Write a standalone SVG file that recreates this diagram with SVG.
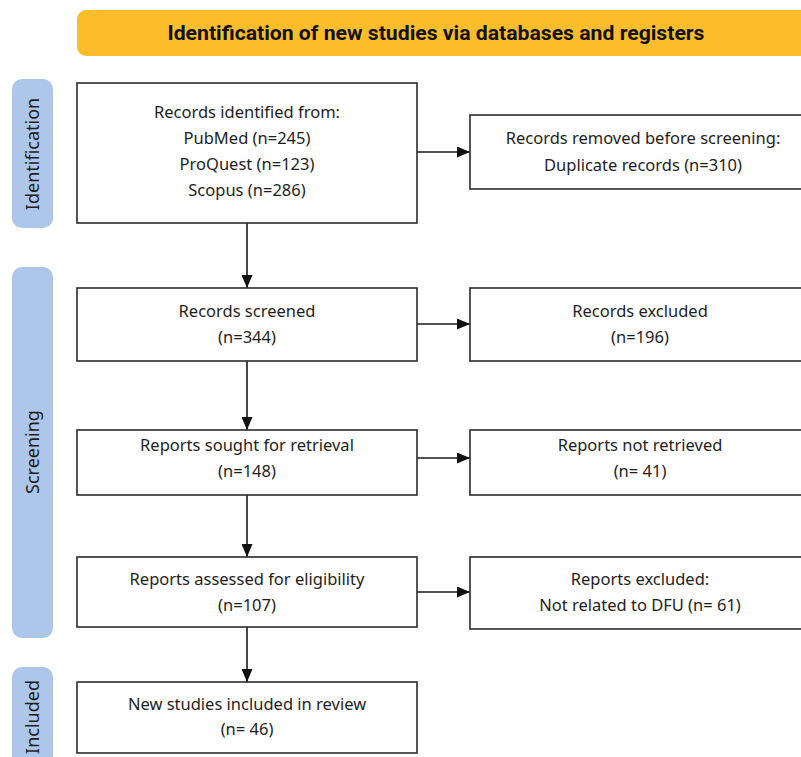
<svg xmlns="http://www.w3.org/2000/svg" width="801" height="757" viewBox="0 0 801 757">
<defs>
<style>
.box{fill:#fff;stroke:#2b2b2b;stroke-width:1.6}
.t{font-family:"Noto Sans","Liberation Sans",sans-serif;font-size:16.5px;fill:#1e1e1e;text-anchor:middle}
.side{fill:#adc6e9}
.st{font-family:"Noto Sans","Liberation Sans",sans-serif;font-size:18px;fill:#1e1e1e;text-anchor:middle}
.c{stroke:#1a1a1a;stroke-width:1.6;fill:none;marker-end:url(#ah)}
</style>
<marker id="ah" viewBox="0 0 13 11" refX="13" refY="5.5" markerWidth="13" markerHeight="11" markerUnits="userSpaceOnUse" orient="auto">
<path d="M0,0 L13,5.5 L0,11 Z" fill="#111"/>
</marker>
</defs>
<rect width="801" height="757" fill="#fff"/>
<g id="title">
<rect x="77" y="10" width="740" height="46" rx="9" fill="#fcbd2a"/>
<text x="436" y="40" font-family="Roboto,'Liberation Sans',sans-serif" font-weight="bold" font-size="20.5" fill="#111" text-anchor="middle" textLength="537" lengthAdjust="spacingAndGlyphs">Identification of new studies via databases and registers</text>
</g>
<g id="side-identification">
<rect class="side" x="12" y="79" width="41" height="149" rx="10"/>
<text class="st" transform="translate(39,154) rotate(-90)">Identification</text>
</g>
<g id="side-screening">
<rect class="side" x="12" y="267" width="41" height="371" rx="10"/>
<text class="st" transform="translate(39,452) rotate(-90)">Screening</text>
</g>
<g id="side-included">
<rect class="side" x="12" y="667" width="41" height="110" rx="10"/>
<text class="st" transform="translate(39,717) rotate(-90)">Included</text>
</g>
<g id="connectors">
<path class="c" d="M247,223 V288"/>
<path class="c" d="M247,361 V430"/>
<path class="c" d="M247,495 V557"/>
<path class="c" d="M247,627 V682"/>
<path class="c" d="M417,152 H470"/>
<path class="c" d="M417,324 H470"/>
<path class="c" d="M417,458 H470"/>
<path class="c" d="M417,592 H470"/>
</g>
<g id="identified">
<rect class="box" x="77" y="83" width="340" height="140"/>
<text class="t" x="247" y="118">Records identified from:</text>
<text class="t" x="247" y="144">PubMed (n=245)</text>
<text class="t" x="247" y="170">ProQuest (n=123)</text>
<text class="t" x="247" y="196">Scopus (n=286)</text>
</g>
<g id="removed">
<rect class="box" x="470" y="115" width="347" height="74"/>
<text class="t" x="643" y="144">Records removed before screening:</text>
<text class="t" x="643" y="171">Duplicate records (n=310)</text>
</g>
<g id="screened">
<rect class="box" x="77" y="288" width="340" height="73"/>
<text class="t" x="247" y="317">Records screened</text>
<text class="t" x="247" y="343">(n=344)</text>
</g>
<g id="excluded">
<rect class="box" x="470" y="288" width="347" height="73"/>
<text class="t" x="640" y="317">Records excluded</text>
<text class="t" x="640" y="343">(n=196)</text>
</g>
<g id="sought">
<rect class="box" x="77" y="430" width="340" height="65"/>
<text class="t" x="247" y="451">Reports sought for retrieval</text>
<text class="t" x="247" y="477">(n=148)</text>
</g>
<g id="notretrieved">
<rect class="box" x="470" y="430" width="347" height="65"/>
<text class="t" x="640" y="451">Reports not retrieved</text>
<text class="t" x="640" y="477">(n= 41)</text>
</g>
<g id="assessed">
<rect class="box" x="77" y="557" width="340" height="70"/>
<text class="t" x="247" y="585">Reports assessed for eligibility</text>
<text class="t" x="247" y="611">(n=107)</text>
</g>
<g id="reportsexcluded">
<rect class="box" x="470" y="557" width="347" height="72"/>
<text class="t" x="640" y="585">Reports excluded:</text>
<text class="t" x="640" y="611">Not related to DFU (n= 61)</text>
</g>
<g id="included">
<rect class="box" x="77" y="682" width="340" height="71"/>
<text class="t" x="247" y="710">New studies included in review</text>
<text class="t" x="247" y="735">(n= 46)</text>
</g>
</svg>
